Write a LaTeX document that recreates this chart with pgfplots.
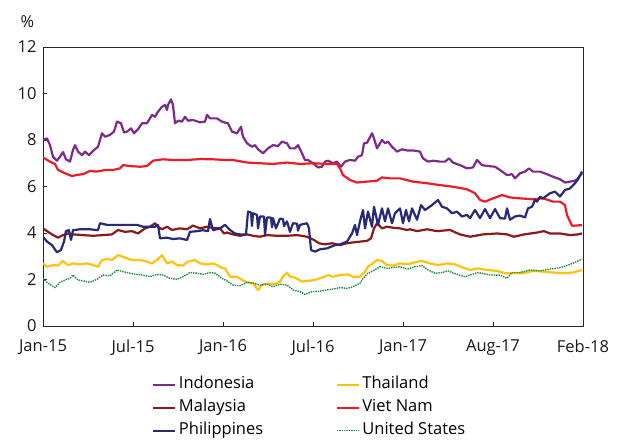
\documentclass[border=0pt]{standalone}
\usepackage{pgfplots}
\pgfplotsset{compat=1.18}
\usepackage{pgfplotstable}
\usepackage{fontspec}
\setmainfont{Open Sans}
\definecolor{cindo}{RGB}{125,43,139}
\definecolor{cmal}{RGB}{140,24,26}
\definecolor{cphi}{RGB}{40,42,120}
\definecolor{cthai}{RGB}{255,194,14}
\definecolor{cviet}{RGB}{237,28,36}
\definecolor{cus}{RGB}{26,138,63}

\pgfplotstableread{
x y
0 8.0
4 8.07
7 7.78
10 7.28
14 7.11
17 7.28
20 7.48
23 7.17
27 7.07
30 7.57
32 7.78
35 7.5
39 7.35
42 7.5
46 7.35
50 7.53
55 7.71
59 8.29
62 8.14
67 8.22
71 8.36
74 8.79
78 8.72
81 8.32
84 8.36
88 8.5
91 8.29
95 8.46
99 8.72
104 8.72
109 9.08
112 9.0
115 9.22
119 9.43
122 9.51
124 9.29
125 9.51
128 9.75
130 9.5
132 8.72
135 8.83
139 8.79
142 9.0
145 8.83
150 8.86
157 8.76
162 8.79
164 9.08
167 8.93
174 8.93
179 8.79
182 8.75
185 8.72
189 8.36
194 8.29
198 8.57
200 8.14
204 7.86
209 7.71
212 7.78
215 7.6
220 7.43
225 7.64
230 7.78
235 7.74
239 7.93
244 7.86
247 7.64
252 7.64
255 7.78
259 7.43
262 7.14
265 7.14
270 7.0
275 6.82
279 6.85
282 7.07
285 7.11
290 7.0
294 7.07
298 6.85
302 7.07
307 7.14
312 7.11
315 7.28
319 7.35
321 7.86
324 7.88
329 8.29
331 8.07
334 7.64
339 8.0
342 7.86
345 7.93
349 7.71
354 7.5
359 7.6
362 7.57
364 7.55
370 7.55
377 7.5
380 7.21
385 7.07
390 7.11
397 7.07
402 7.07
406 7.21
410 7.03
417 6.92
424 6.78
430 6.82
434 7.14
439 6.92
445 6.88
452 6.85
457 6.71
464 6.49
469 6.53
472 6.35
477 6.57
482 6.64
486 6.78
490 6.64
497 6.64
504 6.53
510 6.42
517 6.31
522 6.17
527 6.21
532 6.25
535 6.35
539 6.57
}\indo

\pgfplotstableread{
x y
0 7.25
7 7.07
12 6.97
15 6.71
22 6.57
29 6.45
34 6.5
40 6.53
47 6.67
54 6.64
62 6.71
70 6.71
77 6.78
80 6.92
87 6.88
97 6.85
104 6.88
110 7.11
120 7.17
130 7.14
144 7.14
157 7.18
170 7.17
182 7.14
190 7.14
204 7.03
217 7.0
230 6.97
244 7.03
257 6.97
270 7.0
284 6.97
294 6.97
297 6.78
300 6.49
307 6.28
314 6.17
324 6.21
334 6.25
339 6.39
347 6.35
357 6.35
370 6.21
384 6.14
397 6.06
410 5.99
424 5.88
432 5.71
437 5.42
442 5.35
450 5.49
459 5.63
467 5.53
477 5.49
490 5.45
500 5.49
510 5.35
517 5.35
522 5.2
524 4.77
529 4.31
539 4.34
}\viet

\pgfplotstableread{
x y
0 2.7
4 2.55
10 2.62
15 2.6
20 2.8
25 2.62
30 2.69
37 2.65
44 2.69
50 2.62
55 2.55
59 2.84
64 2.88
69 2.84
75 3.05
82 2.94
89 2.84
97 2.84
104 2.77
109 2.69
114 2.84
119 3.05
124 2.69
129 2.77
134 2.62
140 2.6
145 2.77
152 2.84
157 2.69
164 2.65
170 2.69
175 2.6
180 2.48
182 2.48
187 2.12
194 2.12
199 1.98
204 1.88
210 1.84
215 1.55
219 1.77
225 1.82
232 1.8
237 1.91
240 2.12
244 2.3
247 2.12
252 2.08
259 1.91
265 1.94
272 1.98
279 2.08
285 2.19
290 2.12
297 2.19
305 2.22
310 2.12
317 2.12
322 2.34
325 2.55
330 2.7
334 2.84
339 2.8
344 2.62
350 2.6
357 2.69
364 2.65
372 2.74
379 2.8
387 2.69
395 2.62
404 2.69
412 2.65
420 2.51
427 2.41
435 2.48
444 2.41
454 2.37
462 2.27
470 2.27
480 2.27
490 2.37
500 2.34
510 2.3
520 2.27
530 2.3
539 2.41
}\thai

\pgfplotstableread{
x y
0 2.05
5 1.84
12 1.65
17 1.88
22 1.98
27 2.05
30 2.19
35 1.98
40 1.94
47 1.88
54 2.01
60 2.19
67 2.16
74 2.41
80 2.34
87 2.27
94 2.22
100 2.19
107 2.12
114 2.22
120 2.19
127 2.05
134 2.01
140 2.12
147 2.3
154 2.27
160 2.22
167 2.3
172 2.27
179 2.05
184 1.94
190 1.76
197 1.73
204 1.88
210 1.84
217 1.76
224 1.8
230 1.69
237 1.8
244 1.76
250 1.55
257 1.48
262 1.36
269 1.48
277 1.5
284 1.55
290 1.59
297 1.65
304 1.62
310 1.69
317 1.84
320 2.05
325 2.27
330 2.37
337 2.55
344 2.48
350 2.51
357 2.55
365 2.45
372 2.55
379 2.6
385 2.41
392 2.27
399 2.3
405 2.37
414 2.22
422 2.12
429 2.22
435 2.3
444 2.22
450 2.19
457 2.19
464 2.05
469 2.3
477 2.3
487 2.41
497 2.37
507 2.45
517 2.51
524 2.6
530 2.7
539 2.88
}\us

\pgfplotstableread{
x y
0 4.2
4 4.08
9 3.94
15 3.8
20 3.91
25 3.98
30 3.94
40 3.91
50 3.88
60 3.91
69 3.94
75 4.13
82 4.05
89 4.08
95 3.98
102 4.2
107 4.27
112 4.42
115 4.27
119 4.16
124 4.27
129 4.13
137 4.2
144 4.16
150 4.32
157 4.2
164 4.27
170 4.22
177 4.2
181 3.98
184 4.02
190 3.94
197 3.88
204 3.94
210 3.88
217 3.84
224 3.91
234 3.88
244 3.88
254 3.91
264 3.84
271 3.7
276 3.56
282 3.51
289 3.56
297 3.48
304 3.56
311 3.6
317 3.63
324 3.66
328 3.77
331 4.2
334 4.42
339 4.2
344 4.27
351 4.22
357 4.2
364 4.13
367 4.16
374 4.08
384 4.16
394 4.08
407 4.13
417 3.94
427 3.84
440 3.94
454 3.98
464 3.94
471 3.84
481 3.94
494 4.02
501 4.08
507 3.98
517 3.98
527 3.91
535 3.94
539 3.98
}\mal

\pgfplotstableread{
x y
0 3.84
4 3.63
9 3.48
14 3.17
18 3.27
21 3.63
23 4.09
26 4.12
28 3.7
30 4.12
37 4.16
47 4.16
55 4.12
57 4.42
64 4.35
74 4.35
84 4.35
94 4.35
100 4.27
107 4.27
112 4.27
115 4.35
117 3.77
124 3.8
130 3.74
137 3.77
144 3.7
147 4.05
154 4.08
160 4.12
165 4.08
167 4.6
170 4.12
177 4.2
182 4.35
187 4.13
192 3.98
197 3.94
203 3.94
205 4.92
208 4.88
209 4.3
210 4.85
214 4.78
215 4.2
217 4.71
221 4.71
222 3.91
224 4.67
228 4.66
229 4.25
230 4.64
233 4.2
237 4.62
240 4.6
241 4.3
244 4.5
247 4.05
250 4.42
254 4.4
255 4.1
257 4.35
264 4.42
266 4.2
268 3.27
272 3.2
277 3.3
284 3.34
292 3.48
297 3.51
304 3.63
309 3.98
312 4.35
314 3.91
317 4.5
320 4.99
322 4.2
325 4.92
329 4.27
331 5.13
335 4.35
339 5.06
342 4.5
345 5.06
349 4.42
352 4.85
357 5.06
360 4.42
363 4.99
366 4.5
369 5.06
374 4.57
378 5.2
382 4.99
389 5.2
395 5.42
399 5.13
404 5.06
409 4.85
414 4.92
419 4.71
424 4.78
427 4.64
432 4.99
437 4.64
442 5.03
447 4.64
452 5.03
457 4.64
462 4.62
464 5.06
467 4.57
472 4.71
477 4.75
482 4.67
485 5.06
489 5.13
492 5.42
494 5.35
497 5.56
500 5.49
507 5.71
512 5.78
517 5.57
522 5.85
527 5.92
532 6.14
535 6.31
539 6.64
}\phi

\begin{document}
\begin{tikzpicture}
\begin{axis}[
  name=ax,
  scale only axis,
  width=540bp, height=279bp,
  xmin=0, xmax=540, ymin=0, ymax=12,
  xtick={0,90,180,270,360,450,540},
  xticklabels={Jan-15,Jul-15,Jan-16,Jul-16,Jan-17,Aug-17,Feb-18},
  ytick={0,2,4,6,8,10,12},
  xtick pos=bottom, ytick pos=left,
  tick align=inside,
  major tick length=4bp,
  axis line style={line width=1bp, black!85},
  tick style={line width=1bp, black!85},
  /pgf/number format/assume math mode=true,
  tick label style={font=\fontsize{16.5bp}{19bp}\selectfont, text=black!90},
  yticklabel style={xshift=-3bp},
  xticklabel style={yshift=-10bp},
  legend columns=2,
  legend cell align=left,
  legend style={draw=none, fill=none, at={(0.5,0)}, anchor=north, yshift=-48bp, xshift=-3bp,
    inner sep=0pt, row sep=2bp,
    font=\fontsize{16.5bp}{19bp}\selectfont,
    nodes={inner sep=2.5bp, text height=12bp, text depth=4bp},
    /tikz/column 2/.style={column sep=70bp}},
  legend image code/.code={\draw[#1] plot coordinates {(0bp,0bp) (22bp,0bp)};},
  every axis plot/.append style={line width=2.2bp, line join=round},
]
\addplot[cindo] table {\indo}; \addlegendentry{Indonesia}
\addplot[cthai] table {\thai}; \addlegendentry{Thailand}
\addplot[cmal] table {\mal}; \addlegendentry{Malaysia}
\addplot[cviet] table {\viet}; \addlegendentry{Viet Nam}
\addplot[cphi] table {\phi}; \addlegendentry{Philippines}
\addplot[cus, line width=1.4bp, densely dotted] table {\us}; \addlegendentry{United States}
\end{axis}
\node[font=\fontsize{16.5bp}{19bp}\selectfont, inner sep=0pt, text=black!90] at ([xshift=-15.5bp, yshift=25bp]ax.north west) {\%};
\pgfresetboundingbox
\path[use as bounding box] ([xshift=-43bp,yshift=-114bp]ax.south west) rectangle ([xshift=38bp,yshift=47bp]ax.north east);
\end{tikzpicture}
\end{document}
